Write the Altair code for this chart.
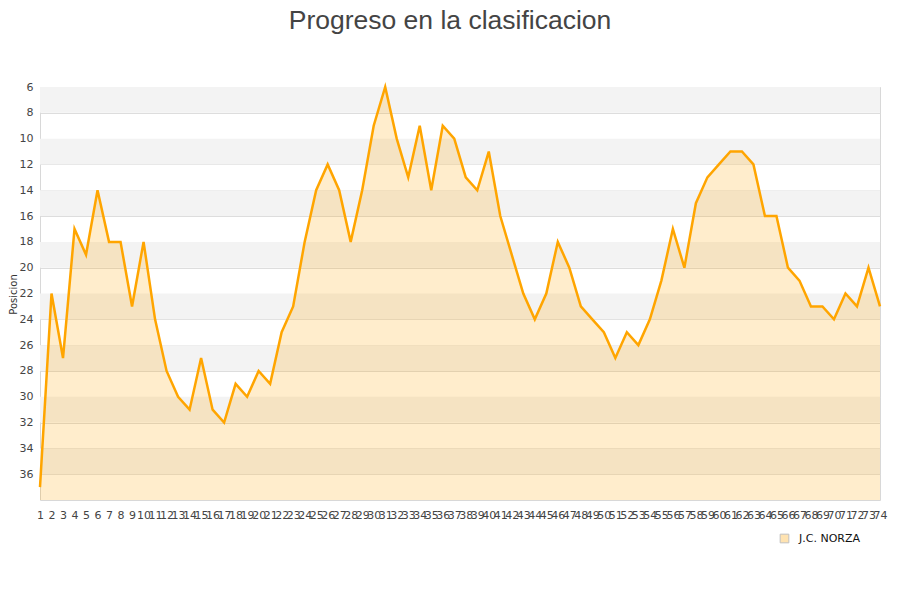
import pandas as pd
import altair as alt

# posicion por jornada
jornadas = list(range(1, 75))
posicion = [37, 22, 27, 17, 19, 14, 18, 18, 23, 18,
            24, 28, 30, 31, 27, 31, 32, 29, 30, 28,
            29, 25, 23, 18, 14, 12, 14, 18, 14, 9,
            6, 10, 13, 9, 14, 9, 10, 13, 14, 11,
            16, 19, 22, 24, 22, 18, 20, 23, 24, 25,
            27, 25, 26, 24, 21, 17, 20, 15, 13, 12,
            11, 11, 12, 16, 16, 20, 21, 23, 23, 24,
            22, 23, 20, 23]
serie = "J.C. NORZA"
franjas = [6, 10, 14, 18, 22, 26, 30, 34]
y_ticks = list(range(6, 38, 2))

df = pd.DataFrame({"jornada": jornadas, "posicion": posicion, "serie": serie})
bands = pd.DataFrame({"lo": franjas, "hi": [f + 2 for f in franjas]})

y_scale = alt.Scale(domain=[6, 38], reverse=True, nice=False, zero=False)
x_scale = alt.Scale(domain=[1, 74], nice=False, zero=False)

x_axis = alt.Axis(values=jornadas, labelOverlap=False, labelFlush=False,
                  grid=False, ticks=False, domain=False, title=None, labelPadding=9)
y_axis = alt.Axis(values=y_ticks, labelOverlap=False, ticks=False, domain=False,
                  gridColor="#dddddd", labelPadding=7, title="Posicion",
                  titleX=-22, titleY=207, titleAlign="center", titleFontSize=10)

stripes = alt.Chart(bands).mark_rect(color="#f3f3f3").encode(
    y=alt.Y("lo:Q", scale=y_scale, axis=y_axis),
    y2="hi:Q",
)

area = alt.Chart(df).mark_area(opacity=0.2).encode(
    x=alt.X("jornada:Q", scale=x_scale, axis=x_axis),
    y=alt.Y("posicion:Q", scale=y_scale, axis=y_axis),
    y2=alt.datum(38),
    color=alt.Color("serie:N", scale=alt.Scale(range=["#ffa500"]),
                    legend=alt.Legend(title=None, orient="none", legendX=739, legendY=446,
                                      symbolType="square", symbolSize=75,
                                      symbolOpacity=0.3, symbolStrokeColor="#333333",
                                      symbolStrokeWidth=1, labelOffset=9,
                                      labelFontSize=11, labelColor="#111111",
                                      labelFont="DejaVu Sans", padding=0)),
)

line = alt.Chart(df).mark_line(color="#ffa500", strokeWidth=2.5).encode(
    x=alt.X("jornada:Q", scale=x_scale, axis=x_axis),
    y=alt.Y("posicion:Q", scale=y_scale, axis=y_axis),
)

chart = (stripes + area + line).properties(
    width=840, height=413,
    padding={"left": 32, "top": 79, "right": 12, "bottom": 92},
    autosize=alt.AutoSizeParams(type="none"),
    title=alt.TitleParams("Progreso en la clasificacion", fontSize=26.5, fontWeight="normal",
                          font="Liberation Sans", color="#444444", anchor="middle",
                          dx=-10, offset=47),
).configure_view(
    stroke="#d8d8d8"
).configure_axis(
    labelFont="DejaVu Sans", labelFontSize=11, labelColor="#444444",
    titleFont="DejaVu Sans", titleFontSize=11, titleFontWeight="normal", titleColor="#333333",
)

chart.save("out.html", embed_options={"renderer": "svg", "actions": False})
